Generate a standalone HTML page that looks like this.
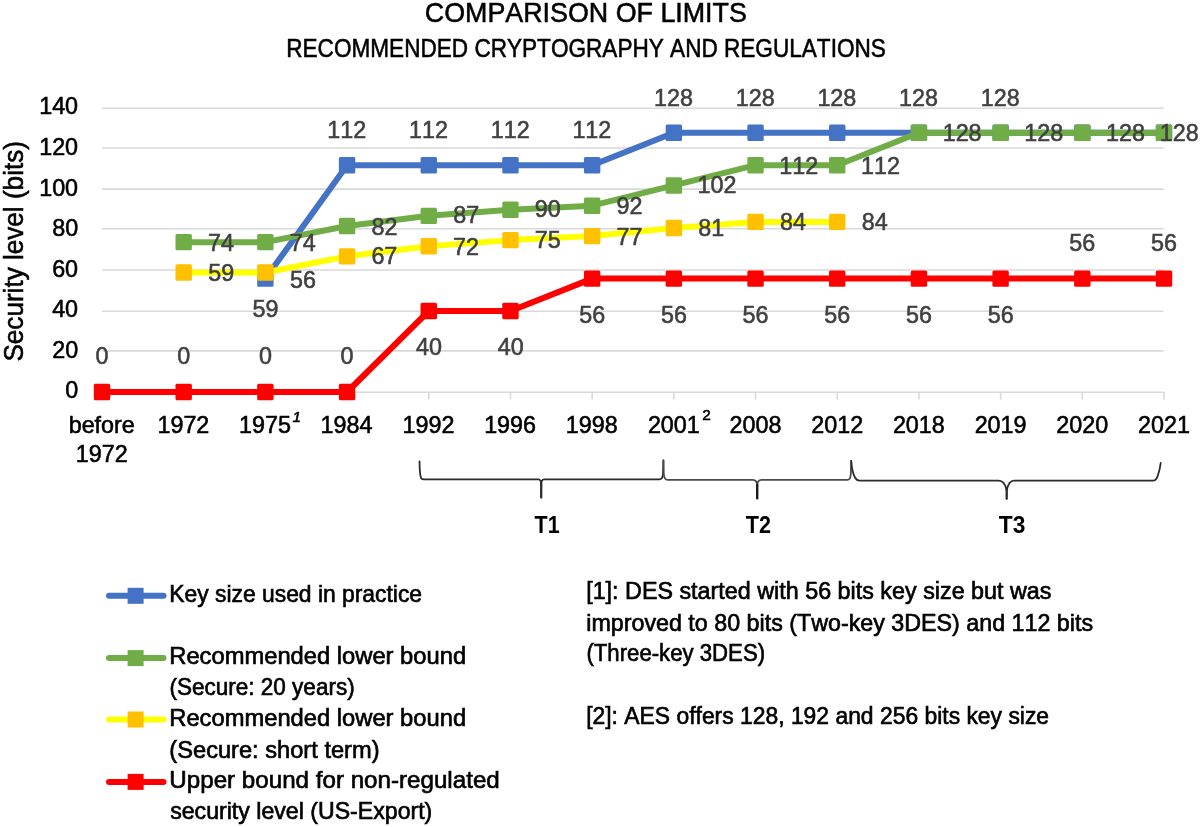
<!DOCTYPE html>
<html><head><meta charset="utf-8"><style>
html,body{margin:0;padding:0;background:#fff;}
svg{display:block;filter:blur(0.45px);}
text{font-family:"Liberation Sans",sans-serif;font-kerning:none;}
</style></head><body>
<svg width="1200" height="827" viewBox="0 0 1200 827">
<rect width="1200" height="827" fill="#fff"/>
<line x1="102" y1="392.30" x2="1163.5" y2="392.30" stroke="#d9d9d9" stroke-width="1.6"/>
<line x1="102" y1="350.90" x2="1163.5" y2="350.90" stroke="#d9d9d9" stroke-width="1.6"/>
<line x1="102" y1="311.20" x2="1163.5" y2="311.20" stroke="#d9d9d9" stroke-width="1.6"/>
<line x1="102" y1="270.00" x2="1163.5" y2="270.00" stroke="#d9d9d9" stroke-width="1.6"/>
<line x1="102" y1="228.70" x2="1163.5" y2="228.70" stroke="#d9d9d9" stroke-width="1.6"/>
<line x1="102" y1="189.10" x2="1163.5" y2="189.10" stroke="#d9d9d9" stroke-width="1.6"/>
<line x1="102" y1="148.00" x2="1163.5" y2="148.00" stroke="#d9d9d9" stroke-width="1.6"/>
<line x1="102" y1="108.20" x2="1163.5" y2="108.20" stroke="#d9d9d9" stroke-width="1.6"/>
<line x1="102.00" y1="392.00" x2="102.00" y2="399.50" stroke="#d9d9d9" stroke-width="1.6"/>
<line x1="183.69" y1="392.00" x2="183.69" y2="399.50" stroke="#d9d9d9" stroke-width="1.6"/>
<line x1="265.38" y1="392.00" x2="265.38" y2="399.50" stroke="#d9d9d9" stroke-width="1.6"/>
<line x1="347.08" y1="392.00" x2="347.08" y2="399.50" stroke="#d9d9d9" stroke-width="1.6"/>
<line x1="428.77" y1="392.00" x2="428.77" y2="399.50" stroke="#d9d9d9" stroke-width="1.6"/>
<line x1="510.46" y1="392.00" x2="510.46" y2="399.50" stroke="#d9d9d9" stroke-width="1.6"/>
<line x1="592.15" y1="392.00" x2="592.15" y2="399.50" stroke="#d9d9d9" stroke-width="1.6"/>
<line x1="673.85" y1="392.00" x2="673.85" y2="399.50" stroke="#d9d9d9" stroke-width="1.6"/>
<line x1="755.54" y1="392.00" x2="755.54" y2="399.50" stroke="#d9d9d9" stroke-width="1.6"/>
<line x1="837.23" y1="392.00" x2="837.23" y2="399.50" stroke="#d9d9d9" stroke-width="1.6"/>
<line x1="918.92" y1="392.00" x2="918.92" y2="399.50" stroke="#d9d9d9" stroke-width="1.6"/>
<line x1="1000.62" y1="392.00" x2="1000.62" y2="399.50" stroke="#d9d9d9" stroke-width="1.6"/>
<line x1="1082.31" y1="392.00" x2="1082.31" y2="399.50" stroke="#d9d9d9" stroke-width="1.6"/>
<line x1="1164.00" y1="392.00" x2="1164.00" y2="399.50" stroke="#d9d9d9" stroke-width="1.6"/>
<polyline points="265.38,278.60 347.08,165.20 428.77,165.20 510.46,165.20 592.15,165.20 673.85,132.80 755.54,132.80 837.23,132.80 918.92,132.80 1000.62,132.80 1082.31,132.80 1164.00,132.80" fill="none" stroke="#4472C4" stroke-width="6" stroke-linejoin="round" stroke-linecap="butt"/>
<rect x="257.18" y="270.40" width="16.4" height="16.4" rx="1.5" fill="#4472C4"/>
<rect x="338.88" y="157.00" width="16.4" height="16.4" rx="1.5" fill="#4472C4"/>
<rect x="420.57" y="157.00" width="16.4" height="16.4" rx="1.5" fill="#4472C4"/>
<rect x="502.26" y="157.00" width="16.4" height="16.4" rx="1.5" fill="#4472C4"/>
<rect x="583.95" y="157.00" width="16.4" height="16.4" rx="1.5" fill="#4472C4"/>
<rect x="665.65" y="124.60" width="16.4" height="16.4" rx="1.5" fill="#4472C4"/>
<rect x="747.34" y="124.60" width="16.4" height="16.4" rx="1.5" fill="#4472C4"/>
<rect x="829.03" y="124.60" width="16.4" height="16.4" rx="1.5" fill="#4472C4"/>
<rect x="910.72" y="124.60" width="16.4" height="16.4" rx="1.5" fill="#4472C4"/>
<rect x="992.42" y="124.60" width="16.4" height="16.4" rx="1.5" fill="#4472C4"/>
<rect x="1074.11" y="124.60" width="16.4" height="16.4" rx="1.5" fill="#4472C4"/>
<rect x="1155.80" y="124.60" width="16.4" height="16.4" rx="1.5" fill="#4472C4"/>
<polyline points="183.69,242.15 265.38,242.15 347.08,225.95 428.77,215.83 510.46,209.75 592.15,205.70 673.85,185.45 755.54,165.20 837.23,165.20 918.92,132.80 1000.62,132.80 1082.31,132.80 1164.00,132.80" fill="none" stroke="#70AD47" stroke-width="6" stroke-linejoin="round" stroke-linecap="butt"/>
<rect x="175.49" y="233.95" width="16.4" height="16.4" rx="1.5" fill="#70AD47"/>
<rect x="257.18" y="233.95" width="16.4" height="16.4" rx="1.5" fill="#70AD47"/>
<rect x="338.88" y="217.75" width="16.4" height="16.4" rx="1.5" fill="#70AD47"/>
<rect x="420.57" y="207.63" width="16.4" height="16.4" rx="1.5" fill="#70AD47"/>
<rect x="502.26" y="201.55" width="16.4" height="16.4" rx="1.5" fill="#70AD47"/>
<rect x="583.95" y="197.50" width="16.4" height="16.4" rx="1.5" fill="#70AD47"/>
<rect x="665.65" y="177.25" width="16.4" height="16.4" rx="1.5" fill="#70AD47"/>
<rect x="747.34" y="157.00" width="16.4" height="16.4" rx="1.5" fill="#70AD47"/>
<rect x="829.03" y="157.00" width="16.4" height="16.4" rx="1.5" fill="#70AD47"/>
<rect x="910.72" y="124.60" width="16.4" height="16.4" rx="1.5" fill="#70AD47"/>
<rect x="992.42" y="124.60" width="16.4" height="16.4" rx="1.5" fill="#70AD47"/>
<rect x="1074.11" y="124.60" width="16.4" height="16.4" rx="1.5" fill="#70AD47"/>
<rect x="1155.80" y="124.60" width="16.4" height="16.4" rx="1.5" fill="#70AD47"/>
<polyline points="183.69,272.52 265.38,272.52 347.08,256.33 428.77,246.20 510.46,240.12 592.15,236.08 673.85,227.97 755.54,221.90 837.23,221.90" fill="none" stroke="#FFFF00" stroke-width="6" stroke-linejoin="round" stroke-linecap="butt"/>
<rect x="175.49" y="264.32" width="16.4" height="16.4" rx="1.5" fill="#FFC000"/>
<rect x="257.18" y="264.32" width="16.4" height="16.4" rx="1.5" fill="#FFC000"/>
<rect x="338.88" y="248.13" width="16.4" height="16.4" rx="1.5" fill="#FFC000"/>
<rect x="420.57" y="238.00" width="16.4" height="16.4" rx="1.5" fill="#FFC000"/>
<rect x="502.26" y="231.93" width="16.4" height="16.4" rx="1.5" fill="#FFC000"/>
<rect x="583.95" y="227.88" width="16.4" height="16.4" rx="1.5" fill="#FFC000"/>
<rect x="665.65" y="219.78" width="16.4" height="16.4" rx="1.5" fill="#FFC000"/>
<rect x="747.34" y="213.70" width="16.4" height="16.4" rx="1.5" fill="#FFC000"/>
<rect x="829.03" y="213.70" width="16.4" height="16.4" rx="1.5" fill="#FFC000"/>
<polyline points="102.00,392.00 183.69,392.00 265.38,392.00 347.08,392.00 428.77,311.00 510.46,311.00 592.15,278.60 673.85,278.60 755.54,278.60 837.23,278.60 918.92,278.60 1000.62,278.60 1082.31,278.60 1164.00,278.60" fill="none" stroke="#FF0000" stroke-width="6" stroke-linejoin="round" stroke-linecap="butt"/>
<rect x="93.80" y="383.80" width="16.4" height="16.4" rx="1.5" fill="#FF0000"/>
<rect x="175.49" y="383.80" width="16.4" height="16.4" rx="1.5" fill="#FF0000"/>
<rect x="257.18" y="383.80" width="16.4" height="16.4" rx="1.5" fill="#FF0000"/>
<rect x="338.88" y="383.80" width="16.4" height="16.4" rx="1.5" fill="#FF0000"/>
<rect x="420.57" y="302.80" width="16.4" height="16.4" rx="1.5" fill="#FF0000"/>
<rect x="502.26" y="302.80" width="16.4" height="16.4" rx="1.5" fill="#FF0000"/>
<rect x="583.95" y="270.40" width="16.4" height="16.4" rx="1.5" fill="#FF0000"/>
<rect x="665.65" y="270.40" width="16.4" height="16.4" rx="1.5" fill="#FF0000"/>
<rect x="747.34" y="270.40" width="16.4" height="16.4" rx="1.5" fill="#FF0000"/>
<rect x="829.03" y="270.40" width="16.4" height="16.4" rx="1.5" fill="#FF0000"/>
<rect x="910.72" y="270.40" width="16.4" height="16.4" rx="1.5" fill="#FF0000"/>
<rect x="992.42" y="270.40" width="16.4" height="16.4" rx="1.5" fill="#FF0000"/>
<rect x="1074.11" y="270.40" width="16.4" height="16.4" rx="1.5" fill="#FF0000"/>
<rect x="1155.80" y="270.40" width="16.4" height="16.4" rx="1.5" fill="#FF0000"/>
<path d="M419.5,461.3 C419.6,470 420,476 421.2,478.2 Q422,479.4 424,479.4 L538.5,479.4 Q541.2,479.4 541.2,485 M541.2,485 Q541.2,479.4 544,479.4 L659.3,479.4 Q662.6,479.4 663,474 L663.4,460.4" fill="none" stroke="#2b2b2b" stroke-width="1.8" stroke-linecap="round" stroke-linejoin="round"/>
<path d="M541.2,484 L541.2,497.6" fill="none" stroke="#2b2b2b" stroke-width="2.3" stroke-linecap="round" stroke-linejoin="round"/>
<path d="M663.4,460.4 L663.8,474 Q664.3,479.9 667.5,479.9 L752.7,479.9 Q757.2,479.9 757.2,486 M757.2,486 Q757.2,479.9 761.5,479.9 L847.5,479.9 Q850.5,479.9 850.8,474 L851.2,461" fill="none" stroke="#4a4a4a" stroke-width="1.8" stroke-linecap="round" stroke-linejoin="round"/>
<path d="M757.2,485 L757.2,498.2" fill="none" stroke="#1a1a1a" stroke-width="2.4" stroke-linecap="round" stroke-linejoin="round"/>
<path d="M851.2,461 Q852,472 855,477.5 Q856.8,480.6 859.5,480.6 L998.8,480.6 Q1004.5,480.6 1006.7,490 M1006.7,490 Q1008.8,480.6 1014,480.6 L1153,480.6 Q1156.5,480.6 1158,475 Q1160,469 1160.7,463" fill="none" stroke="#2b2b2b" stroke-width="1.8" stroke-linecap="round" stroke-linejoin="round"/>
<path d="M1006.7,489 L1006.7,498.8" fill="none" stroke="#2b2b2b" stroke-width="2.3" stroke-linecap="round" stroke-linejoin="round"/>
<line x1="109" y1="595.8" x2="163.5" y2="595.8" stroke="#4472C4" stroke-width="6" stroke-linecap="round"/>
<rect x="127.60" y="587.80" width="16" height="16" fill="#4472C4"/>
<line x1="109" y1="658.1" x2="163.5" y2="658.1" stroke="#70AD47" stroke-width="6" stroke-linecap="round"/>
<rect x="127.60" y="650.10" width="16" height="16" fill="#70AD47"/>
<line x1="109" y1="719.5" x2="163.5" y2="719.5" stroke="#FFFF00" stroke-width="6" stroke-linecap="round"/>
<rect x="127.60" y="711.50" width="16" height="16" fill="#FFC000"/>
<line x1="109" y1="781.9" x2="163.5" y2="781.9" stroke="#FF0000" stroke-width="6" stroke-linecap="round"/>
<rect x="127.60" y="773.90" width="16" height="16" fill="#FF0000"/>
<text x="-0.90" y="0" transform="translate(66.04,397.80) scale(1.0150,1)" font-size="23" fill="#000" stroke="#000" stroke-width="0.55">0</text>
<text x="-1.16" y="0" transform="translate(53.32,357.90) scale(1.0150,1)" font-size="23" fill="#000" stroke="#000" stroke-width="0.55">20</text>
<text x="-0.53" y="0" transform="translate(52.68,317.00) scale(1.0150,1)" font-size="23" fill="#000" stroke="#000" stroke-width="0.55">40</text>
<text x="-1.17" y="0" transform="translate(53.33,277.00) scale(1.0150,1)" font-size="23" fill="#000" stroke="#000" stroke-width="0.55">60</text>
<text x="-1.00" y="0" transform="translate(53.16,235.90) scale(1.0150,1)" font-size="23" fill="#000" stroke="#000" stroke-width="0.55">80</text>
<text x="-1.75" y="0" transform="translate(40.94,196.00) scale(1.0150,1)" font-size="23" fill="#000" stroke="#000" stroke-width="0.55">100</text>
<text x="-1.75" y="0" transform="translate(40.94,155.00) scale(1.0150,1)" font-size="23" fill="#000" stroke="#000" stroke-width="0.55">120</text>
<text x="-1.75" y="0" transform="translate(40.94,113.60) scale(1.0150,1)" font-size="23" fill="#000" stroke="#000" stroke-width="0.55">140</text>
<text x="-1.48" y="0" transform="translate(70.17,432.70) scale(1.0150,1)" font-size="23" fill="#000" stroke="#000" stroke-width="0.55">before</text>
<text x="-1.75" y="0" transform="translate(159.20,432.70) scale(1.0150,1)" font-size="23" fill="#000" stroke="#000" stroke-width="0.55">1972</text>
<text x="-1.75" y="0" transform="translate(240.80,432.70) scale(1.0150,1)" font-size="23" fill="#000" stroke="#000" stroke-width="0.55">1975</text>
<text x="-1.75" y="0" transform="translate(322.34,432.70) scale(1.0150,1)" font-size="23" fill="#000" stroke="#000" stroke-width="0.55">1984</text>
<text x="-1.75" y="0" transform="translate(404.28,432.70) scale(1.0150,1)" font-size="23" fill="#000" stroke="#000" stroke-width="0.55">1992</text>
<text x="-1.75" y="0" transform="translate(485.90,432.70) scale(1.0150,1)" font-size="23" fill="#000" stroke="#000" stroke-width="0.55">1996</text>
<text x="-1.75" y="0" transform="translate(567.58,432.70) scale(1.0150,1)" font-size="23" fill="#000" stroke="#000" stroke-width="0.55">1998</text>
<text x="-1.16" y="0" transform="translate(649.04,432.70) scale(1.0150,1)" font-size="23" fill="#000" stroke="#000" stroke-width="0.55">2001</text>
<text x="-1.16" y="0" transform="translate(730.67,432.70) scale(1.0150,1)" font-size="23" fill="#000" stroke="#000" stroke-width="0.55">2008</text>
<text x="-1.16" y="0" transform="translate(812.44,432.70) scale(1.0150,1)" font-size="23" fill="#000" stroke="#000" stroke-width="0.55">2012</text>
<text x="-1.16" y="0" transform="translate(894.05,432.70) scale(1.0150,1)" font-size="23" fill="#000" stroke="#000" stroke-width="0.55">2018</text>
<text x="-1.16" y="0" transform="translate(975.79,432.70) scale(1.0150,1)" font-size="23" fill="#000" stroke="#000" stroke-width="0.55">2019</text>
<text x="-1.16" y="0" transform="translate(1057.38,432.70) scale(1.0150,1)" font-size="23" fill="#000" stroke="#000" stroke-width="0.55">2020</text>
<text x="-1.16" y="0" transform="translate(1139.19,432.70) scale(1.0150,1)" font-size="23" fill="#000" stroke="#000" stroke-width="0.55">2021</text>
<text x="-1.75" y="0" transform="translate(77.51,462.10) scale(1.0150,1)" font-size="23" fill="#000" stroke="#000" stroke-width="0.55">1972</text>
<text x="-0.36" y="0" transform="translate(293.00,421.60) scale(1.0895,1)" font-size="14" fill="#000" stroke="#000" stroke-width="0.55" font-style="italic">1</text>
<text x="-0.70" y="0" transform="translate(703.00,420.00) scale(1.0975,1)" font-size="14" fill="#000" stroke="#000" stroke-width="0.55">2</text>
<text x="-0.92" y="0" transform="translate(290.88,287.50) scale(1.0150,1)" font-size="23" fill="#404040" stroke="#404040" stroke-width="0.55">56</text>
<text x="-1.75" y="0" transform="translate(329.08,138.30) scale(1.0150,1)" font-size="23" fill="#404040" stroke="#404040" stroke-width="0.55">112</text>
<text x="-1.75" y="0" transform="translate(410.77,138.30) scale(1.0150,1)" font-size="23" fill="#404040" stroke="#404040" stroke-width="0.55">112</text>
<text x="-1.75" y="0" transform="translate(492.46,138.30) scale(1.0150,1)" font-size="23" fill="#404040" stroke="#404040" stroke-width="0.55">112</text>
<text x="-1.75" y="0" transform="translate(574.15,138.30) scale(1.0150,1)" font-size="23" fill="#404040" stroke="#404040" stroke-width="0.55">112</text>
<text x="-1.75" y="0" transform="translate(655.77,106.40) scale(1.0150,1)" font-size="23" fill="#404040" stroke="#404040" stroke-width="0.55">128</text>
<text x="-1.75" y="0" transform="translate(737.46,106.40) scale(1.0150,1)" font-size="23" fill="#404040" stroke="#404040" stroke-width="0.55">128</text>
<text x="-1.75" y="0" transform="translate(819.15,106.40) scale(1.0150,1)" font-size="23" fill="#404040" stroke="#404040" stroke-width="0.55">128</text>
<text x="-1.75" y="0" transform="translate(900.84,106.40) scale(1.0150,1)" font-size="23" fill="#404040" stroke="#404040" stroke-width="0.55">128</text>
<text x="-1.75" y="0" transform="translate(982.54,106.40) scale(1.0150,1)" font-size="23" fill="#404040" stroke="#404040" stroke-width="0.55">128</text>
<text x="-1.18" y="0" transform="translate(209.19,251.20) scale(1.0150,1)" font-size="23" fill="#404040" stroke="#404040" stroke-width="0.55">74</text>
<text x="-1.18" y="0" transform="translate(290.88,250.80) scale(1.0150,1)" font-size="23" fill="#404040" stroke="#404040" stroke-width="0.55">74</text>
<text x="-1.00" y="0" transform="translate(372.58,234.50) scale(1.0150,1)" font-size="23" fill="#404040" stroke="#404040" stroke-width="0.55">82</text>
<text x="-1.00" y="0" transform="translate(454.27,223.40) scale(1.0150,1)" font-size="23" fill="#404040" stroke="#404040" stroke-width="0.55">87</text>
<text x="-1.08" y="0" transform="translate(535.96,217.20) scale(1.0150,1)" font-size="23" fill="#404040" stroke="#404040" stroke-width="0.55">90</text>
<text x="-1.08" y="0" transform="translate(617.65,214.40) scale(1.0150,1)" font-size="23" fill="#404040" stroke="#404040" stroke-width="0.55">92</text>
<text x="-1.75" y="0" transform="translate(699.35,193.30) scale(1.0150,1)" font-size="23" fill="#404040" stroke="#404040" stroke-width="0.55">102</text>
<text x="-1.75" y="0" transform="translate(781.04,173.50) scale(1.0150,1)" font-size="23" fill="#404040" stroke="#404040" stroke-width="0.55">112</text>
<text x="-1.75" y="0" transform="translate(862.73,173.50) scale(1.0150,1)" font-size="23" fill="#404040" stroke="#404040" stroke-width="0.55">112</text>
<text x="-1.75" y="0" transform="translate(944.42,141.00) scale(1.0150,1)" font-size="23" fill="#404040" stroke="#404040" stroke-width="0.55">128</text>
<text x="-1.75" y="0" transform="translate(1026.12,141.00) scale(1.0150,1)" font-size="23" fill="#404040" stroke="#404040" stroke-width="0.55">128</text>
<text x="-1.75" y="0" transform="translate(1107.81,141.00) scale(1.0150,1)" font-size="23" fill="#404040" stroke="#404040" stroke-width="0.55">128</text>
<text x="-1.75" y="0" transform="translate(1161.50,141.00) scale(1.0150,1)" font-size="23" fill="#404040" stroke="#404040" stroke-width="0.55">128</text>
<text x="-0.92" y="0" transform="translate(209.19,281.00) scale(1.0150,1)" font-size="23" fill="#404040" stroke="#404040" stroke-width="0.55">59</text>
<text x="-1.17" y="0" transform="translate(372.58,264.40) scale(1.0150,1)" font-size="23" fill="#404040" stroke="#404040" stroke-width="0.55">67</text>
<text x="-1.18" y="0" transform="translate(454.27,255.20) scale(1.0150,1)" font-size="23" fill="#404040" stroke="#404040" stroke-width="0.55">72</text>
<text x="-1.18" y="0" transform="translate(535.96,247.60) scale(1.0150,1)" font-size="23" fill="#404040" stroke="#404040" stroke-width="0.55">75</text>
<text x="-1.18" y="0" transform="translate(617.65,244.60) scale(1.0150,1)" font-size="23" fill="#404040" stroke="#404040" stroke-width="0.55">77</text>
<text x="-1.00" y="0" transform="translate(699.35,235.50) scale(1.0150,1)" font-size="23" fill="#404040" stroke="#404040" stroke-width="0.55">81</text>
<text x="-1.00" y="0" transform="translate(781.04,229.60) scale(1.0150,1)" font-size="23" fill="#404040" stroke="#404040" stroke-width="0.55">84</text>
<text x="-1.00" y="0" transform="translate(862.73,229.60) scale(1.0150,1)" font-size="23" fill="#404040" stroke="#404040" stroke-width="0.55">84</text>
<text x="-0.92" y="0" transform="translate(253.42,316.70) scale(1.0150,1)" font-size="23" fill="#404040" stroke="#404040" stroke-width="0.55">59</text>
<text x="-0.90" y="0" transform="translate(96.42,364.20) scale(1.0150,1)" font-size="23" fill="#404040" stroke="#404040" stroke-width="0.55">0</text>
<text x="-0.90" y="0" transform="translate(178.11,364.20) scale(1.0150,1)" font-size="23" fill="#404040" stroke="#404040" stroke-width="0.55">0</text>
<text x="-0.90" y="0" transform="translate(259.80,364.20) scale(1.0150,1)" font-size="23" fill="#404040" stroke="#404040" stroke-width="0.55">0</text>
<text x="-0.90" y="0" transform="translate(341.50,364.20) scale(1.0150,1)" font-size="23" fill="#404040" stroke="#404040" stroke-width="0.55">0</text>
<text x="-0.53" y="0" transform="translate(416.51,354.60) scale(1.0150,1)" font-size="23" fill="#404040" stroke="#404040" stroke-width="0.55">40</text>
<text x="-0.53" y="0" transform="translate(498.20,354.60) scale(1.0150,1)" font-size="23" fill="#404040" stroke="#404040" stroke-width="0.55">40</text>
<text x="-0.92" y="0" transform="translate(580.15,322.80) scale(1.0150,1)" font-size="23" fill="#404040" stroke="#404040" stroke-width="0.55">56</text>
<text x="-0.92" y="0" transform="translate(661.84,322.80) scale(1.0150,1)" font-size="23" fill="#404040" stroke="#404040" stroke-width="0.55">56</text>
<text x="-0.92" y="0" transform="translate(743.54,322.80) scale(1.0150,1)" font-size="23" fill="#404040" stroke="#404040" stroke-width="0.55">56</text>
<text x="-0.92" y="0" transform="translate(825.23,322.80) scale(1.0150,1)" font-size="23" fill="#404040" stroke="#404040" stroke-width="0.55">56</text>
<text x="-0.92" y="0" transform="translate(906.92,322.80) scale(1.0150,1)" font-size="23" fill="#404040" stroke="#404040" stroke-width="0.55">56</text>
<text x="-0.92" y="0" transform="translate(988.61,322.80) scale(1.0150,1)" font-size="23" fill="#404040" stroke="#404040" stroke-width="0.55">56</text>
<text x="-0.92" y="0" transform="translate(1070.30,250.60) scale(1.0150,1)" font-size="23" fill="#404040" stroke="#404040" stroke-width="0.55">56</text>
<text x="-0.92" y="0" transform="translate(1152.00,250.60) scale(1.0150,1)" font-size="23" fill="#404040" stroke="#404040" stroke-width="0.55">56</text>
<text x="-0.27" y="0" transform="translate(534.80,533.30) scale(0.8940,1)" font-size="24" fill="#000" stroke="#000" stroke-width="0" font-weight="bold">T1</text>
<text x="-0.27" y="0" transform="translate(746.00,533.00) scale(0.8963,1)" font-size="24" fill="#000" stroke="#000" stroke-width="0" font-weight="bold">T2</text>
<text x="-0.27" y="0" transform="translate(999.00,533.30) scale(0.9490,1)" font-size="24" fill="#000" stroke="#000" stroke-width="0" font-weight="bold">T3</text>
<text x="-1.45" y="0" transform="translate(426.20,22.30) scale(0.9420,1)" font-size="28.5" fill="#000" stroke="#000" stroke-width="0.55">COMPARISON OF LIMITS</text>
<text x="-2.09" y="0" transform="translate(288.10,56.80) scale(0.8856,1)" font-size="25.5" fill="#000" stroke="#000" stroke-width="0.55">RECOMMENDED CRYPTOGRAPHY AND REGULATIONS</text>
<text x="-1.97" y="0" transform="translate(171.20,602.10) scale(0.9526,1)" font-size="24" fill="#000" stroke="#000" stroke-width="0.65">Key size used in practice</text>
<text x="-1.97" y="0" transform="translate(171.20,664.40) scale(0.9897,1)" font-size="24" fill="#000" stroke="#000" stroke-width="0.65">Recommended lower bound</text>
<text x="-1.49" y="0" transform="translate(170.80,695.40) scale(0.9391,1)" font-size="24" fill="#000" stroke="#000" stroke-width="0.65">(Secure: 20 years)</text>
<text x="-1.97" y="0" transform="translate(171.20,726.30) scale(0.9897,1)" font-size="24" fill="#000" stroke="#000" stroke-width="0.65">Recommended lower bound</text>
<text x="-1.49" y="0" transform="translate(170.80,757.60) scale(0.9857,1)" font-size="24" fill="#000" stroke="#000" stroke-width="0.65">(Secure: short term)</text>
<text x="-1.85" y="0" transform="translate(171.20,788.00) scale(1.0067,1)" font-size="24" fill="#000" stroke="#000" stroke-width="0.65">Upper bound for non-regulated</text>
<text x="-0.67" y="0" transform="translate(170.80,818.80) scale(0.9640,1)" font-size="24" fill="#000" stroke="#000" stroke-width="0.65">security level (US-Export)</text>
<text x="-1.71" y="0" transform="translate(587.80,598.90) scale(0.9721,1)" font-size="24" fill="#000" stroke="#000" stroke-width="0.65">[1]: DES started with 56 bits key size but was</text>
<text x="-1.61" y="0" transform="translate(587.80,630.50) scale(0.9698,1)" font-size="24" fill="#000" stroke="#000" stroke-width="0.65">improved to 80 bits (Two-key 3DES) and 112 bits</text>
<text x="-1.49" y="0" transform="translate(587.80,661.30) scale(0.9243,1)" font-size="24" fill="#000" stroke="#000" stroke-width="0.65">(Three-key 3DES)</text>
<text x="-1.71" y="0" transform="translate(587.80,723.90) scale(0.9537,1)" font-size="24" fill="#000" stroke="#000" stroke-width="0.65">[2]: AES offers 128, 192 and 256 bits key size</text>
<text x="-1.23" y="0" transform="translate(23.2,360.4) rotate(-90) scale(0.9677,1)" font-size="27" fill="#000" stroke="#000" stroke-width="0.55">Security level (bits)</text>
</svg></body></html>
